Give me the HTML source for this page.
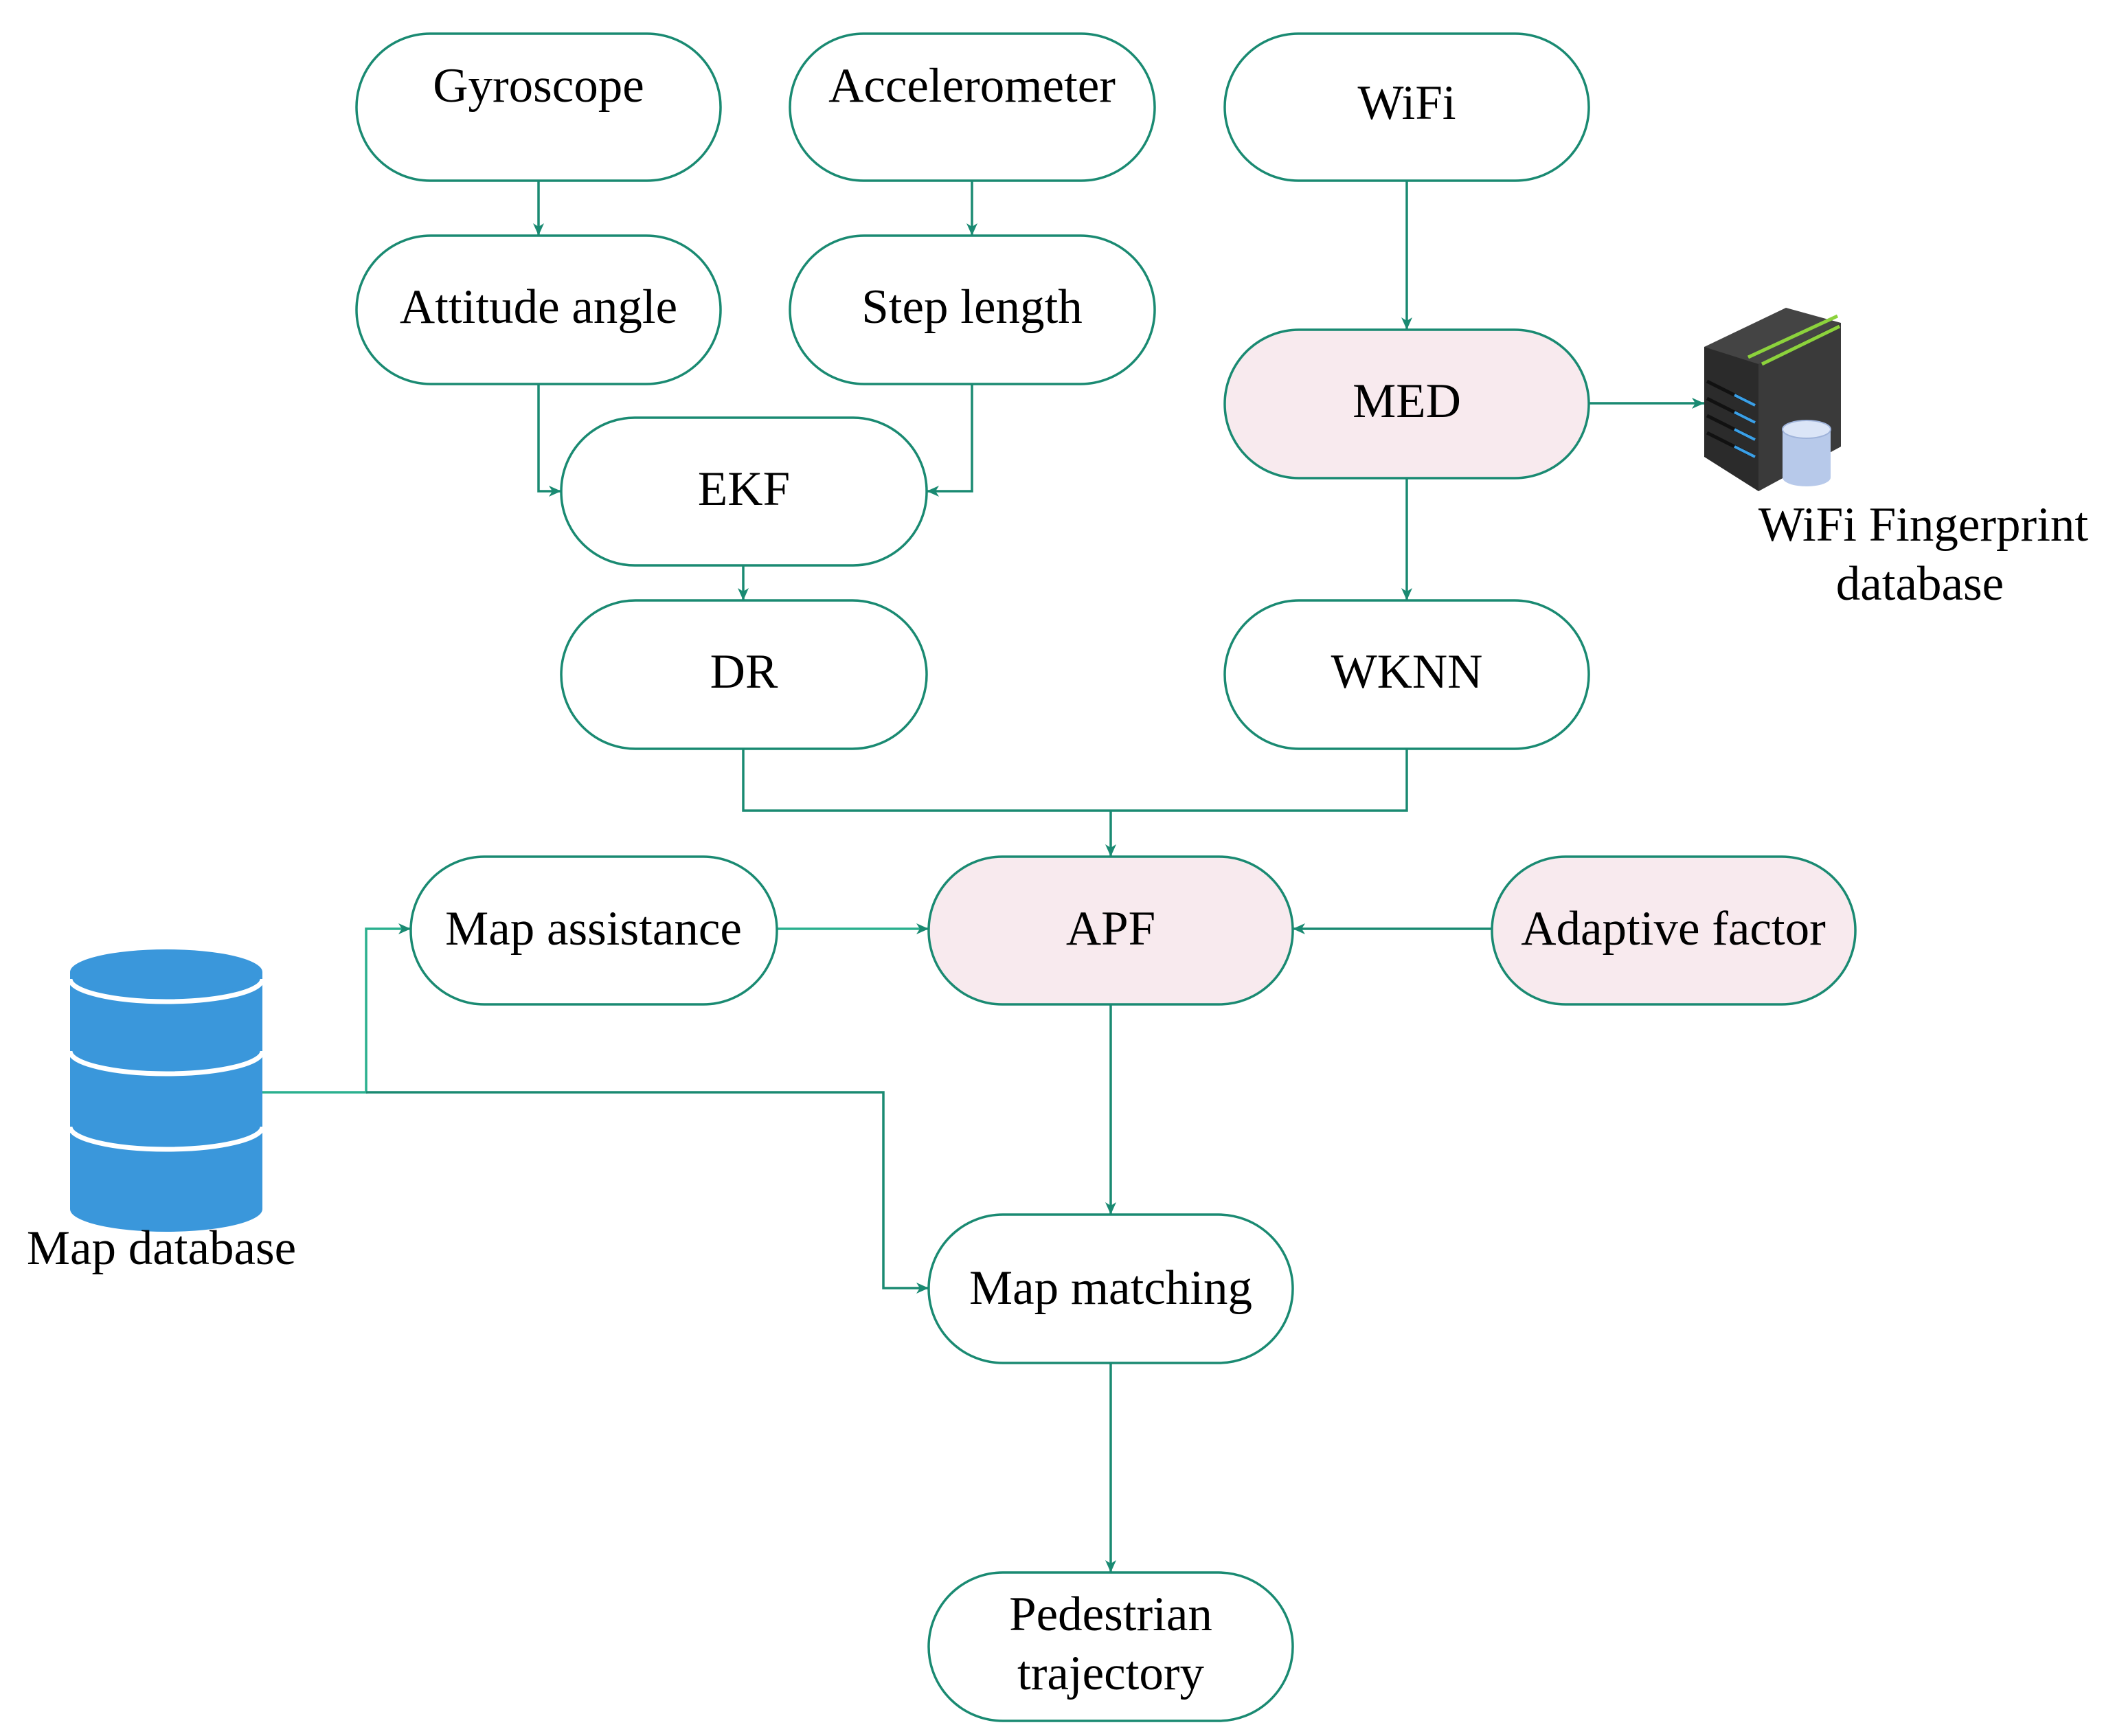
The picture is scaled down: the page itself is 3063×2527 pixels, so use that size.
<!DOCTYPE html>
<html><head><meta charset="utf-8"><style>
html,body{margin:0;padding:0;background:#fff;}
svg{display:block;}
text{font-family:"Liberation Serif",serif;font-size:71px;fill:#000;text-anchor:middle;}
.b{fill:#fff;stroke:#1a8a72;stroke-width:3.5;}
.p{fill:#f8eaee;stroke:#1a8a72;stroke-width:3.5;}
.l{fill:none;stroke:#1a8a72;stroke-width:3.5;}
</style></head><body>
<svg width="3063" height="2527" viewBox="0 0 3063 2527">
<defs>
<marker id="A" markerWidth="20" markerHeight="20" refX="18" refY="10" orient="auto" markerUnits="userSpaceOnUse">
<path d="M0,2 L18,10 L0,18 L5,10 Z" fill="#1a8a72"/>
</marker>
</defs>
<path class="l" d="M784,263 V343" marker-end="url(#A)"/>
<path class="l" d="M1415,263 V343" marker-end="url(#A)"/>
<path class="l" d="M2048,263 V480" marker-end="url(#A)"/>
<path class="l" d="M784,559 V715 H817" marker-end="url(#A)"/>
<path class="l" d="M1415,559 V715 H1349" marker-end="url(#A)"/>
<path class="l" d="M1082,823 V874" marker-end="url(#A)"/>
<path class="l" d="M2048,696 V874" marker-end="url(#A)"/>
<path class="l" d="M2313,587 H2481" marker-end="url(#A)"/>
<path class="l" d="M1082,1090 V1180 H2048 V1090"/>
<path class="l" d="M1617,1180 V1247" marker-end="url(#A)"/>
<path class="l" d="M1131,1352 H1352" marker-end="url(#A)" style="stroke:#2bb08f"/>
<path class="l" d="M2172,1352 H1882" marker-end="url(#A)"/>
<path class="l" d="M1617,1462 V1768" marker-end="url(#A)"/>
<path class="l" d="M1617,1984 V2289" marker-end="url(#A)"/>
<path class="l" d="M382,1590 H533 V1352 H598" marker-end="url(#A)" style="stroke:#2bb08f"/>
<path class="l" d="M533,1590 H1286 V1875 H1352" marker-end="url(#A)"/>
<rect class="b" x="519" y="49" width="530" height="214" rx="107"/>
<text x="784" y="148">Gyroscope</text>
<rect class="b" x="1150" y="49" width="531" height="214" rx="107"/>
<text x="1415" y="148">Accelerometer</text>
<rect class="b" x="1783" y="49" width="530" height="214" rx="107"/>
<text x="2048" y="173">WiFi</text>
<rect class="b" x="519" y="343" width="530" height="216" rx="108"/>
<text x="784" y="470">Attitude angle</text>
<rect class="b" x="1150" y="343" width="531" height="216" rx="108"/>
<text x="1415" y="470">Step length</text>
<rect class="p" x="1783" y="480" width="530" height="216" rx="108"/>
<text x="2048" y="607">MED</text>
<rect class="b" x="817" y="608" width="532" height="215" rx="107"/>
<text x="1083" y="735">EKF</text>
<rect class="b" x="817" y="874" width="532" height="216" rx="108"/>
<text x="1083" y="1001">DR</text>
<rect class="b" x="1783" y="874" width="530" height="216" rx="108"/>
<text x="2048" y="1001">WKNN</text>
<rect class="b" x="598" y="1247" width="533" height="215" rx="107"/>
<text x="864" y="1375">Map assistance</text>
<rect class="p" x="1352" y="1247" width="530" height="215" rx="107"/>
<text x="1617" y="1375">APF</text>
<rect class="p" x="2172" y="1247" width="529" height="215" rx="107"/>
<text x="2436" y="1375">Adaptive factor</text>
<rect class="b" x="1352" y="1768" width="530" height="216" rx="108"/>
<text x="1617" y="1898">Map matching</text>
<rect class="b" x="1352" y="2289" width="530" height="216" rx="108"/>
<text x="1617" y="2373">Pedestrian</text>
<text x="1617" y="2459">trajectory</text>
<g>
<path d="M102,1415 V1760 A140,33 0 0 0 382,1760 V1415 Z" fill="#3a97db"/>
<ellipse cx="242" cy="1415" rx="140" ry="33" fill="#3a97db"/>
<path d="M102,1425 A140,33 0 0 0 382,1425" fill="none" stroke="#fff" stroke-width="7"/>
<path d="M102,1530 A140,33 0 0 0 382,1530" fill="none" stroke="#fff" stroke-width="7"/>
<path d="M102,1640 A140,33 0 0 0 382,1640" fill="none" stroke="#fff" stroke-width="7"/>
</g>
<text x="235" y="1840">Map database</text>
<g>
<polygon points="2481,505 2680,470 2680,650 2560,715 2481,665" fill="#2b2b2b"/>
<polygon points="2481,505 2600,448 2680,470 2560,530" fill="#444"/>
<polygon points="2560,530 2680,470 2680,650 2560,715" fill="#3a3a3a"/>
<path d="M2545,520 L2675,460 M2565,530 L2678,475" stroke="#8cd23c" stroke-width="5"/>
<path d="M2485,555 L2545,585 M2485,580 L2545,610 M2485,605 L2545,635 M2485,630 L2545,660" stroke="#111" stroke-width="5"/>
<path d="M2525,575 L2555,590 M2525,600 L2555,615 M2525,625 L2555,640 M2525,650 L2555,665" stroke="#3aa0e8" stroke-width="4"/>
<path d="M2595,625 V695 A35,13 0 0 0 2665,695 V625 Z" fill="#b7c9ea"/>
<ellipse cx="2630" cy="625" rx="35" ry="13" fill="#dbe5f7" stroke="#9fb3da" stroke-width="2"/>
</g>
<text x="2800" y="787">WiFi Fingerprint</text>
<text x="2795" y="873">database</text>
</svg>
</body></html>
